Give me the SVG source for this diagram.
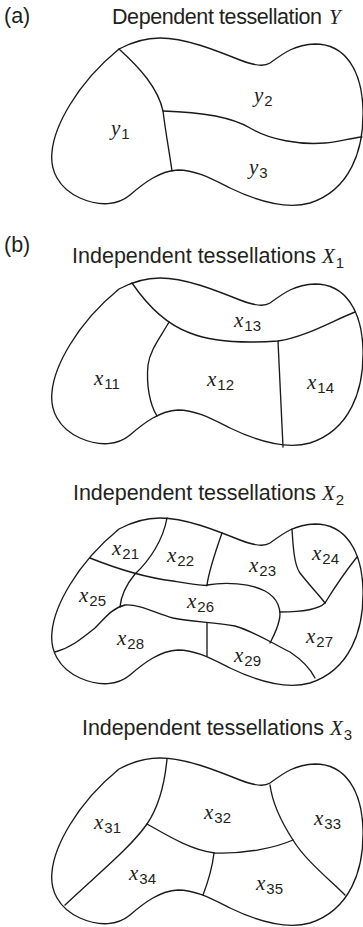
<svg xmlns="http://www.w3.org/2000/svg" xmlns:xlink="http://www.w3.org/1999/xlink" width="363" height="927" viewBox="0 0 363 927">
<style>
.ln{fill:none;stroke:#1a1a1a;stroke-width:1.35;stroke-linejoin:round;stroke-linecap:round}
.t{font-family:"Liberation Sans",Arial,sans-serif;font-size:21.5px;fill:#231f20}
.v{font-family:"Liberation Serif","Times New Roman",serif;font-style:italic;font-size:21px;fill:#231f20}
.s{font-family:"Liberation Sans",Arial,sans-serif;font-style:normal;font-size:15px}
.ts{font-family:"Liberation Sans",Arial,sans-serif;font-style:normal;font-size:15px}
</style>
<defs>
<path id="blob" d="M119,49 C132,42 146,38 160,38 C185,38 215,50 240,60 C255,66 264,67 270,63 C285,52 295,45 315,44 C345,44 362,70 363,110 C364,150 350,190 310,203 C285,210 255,200 230,188 C210,178 195,170 178,170 C160,171 145,182 130,195 C118,205 100,207 80,198 C58,188 50,170 52,152 C54,128 75,85 119,49 Z"/>
</defs>

<g id="panel-a">
<text class="t" x="4" y="23">(a)</text>
<text class="t" x="112" y="24" textLength="210" lengthAdjust="spacing">Dependent tessellation</text>
<text class="v" x="329" y="24">Y</text>
<g id="connectors-a" transform="translate(0,0)">
<use xlink:href="#blob" class="ln"/>
<path class="ln" d="M119,49 C140,68 158,88 163,111 C166,135 169,150 172,171"/>
<path class="ln" d="M163,111 C200,112 230,116 250,128 C270,140 300,145 325,143 C340,142 350,138 362,137"/>
</g>
<g id="y1"><text class="v" x="111" y="135">y<tspan class="s" dx="1" dy="4">1</tspan></text></g>
<g id="y2"><text class="v" x="254" y="102">y<tspan class="s" dx="1" dy="4">2</tspan></text></g>
<g id="y3"><text class="v" x="249" y="174">y<tspan class="s" dx="1" dy="4">3</tspan></text></g>
</g>

<g id="panel-b">
<text class="t" x="4" y="252">(b)</text>
<text class="t" x="72" y="263" textLength="244" lengthAdjust="spacing">Independent tessellations</text>
<text class="v" x="322" y="263">X<tspan class="ts" dx="1" dy="5">1</tspan></text>
<g id="connectors-b" transform="translate(0,240)">
<use xlink:href="#blob" class="ln"/>
<path class="ln" d="M132,43 C145,62 165,84 190,93 C215,103 250,103 278,101 C305,97 330,82 355,72"/>
<path class="ln" d="M169,82 C160,98 150,110 148,125 C146,145 150,165 157,176"/>
<path class="ln" d="M278,101 L283,207"/>
</g>
<g id="x11"><text class="v" x="94" y="385">x<tspan class="s" dx="1" dy="4">11</tspan></text></g>
<g id="x12"><text class="v" x="207" y="386">x<tspan class="s" dx="1" dy="4">12</tspan></text></g>
<g id="x13"><text class="v" x="234" y="327">x<tspan class="s" dx="1" dy="4">13</tspan></text></g>
<g id="x14"><text class="v" x="307" y="389">x<tspan class="s" dx="1" dy="4">14</tspan></text></g>
</g>

<g id="panel-c">
<text class="t" x="73" y="500" textLength="243" lengthAdjust="spacing">Independent tessellations</text>
<text class="v" x="322" y="500">X<tspan class="ts" dx="1" dy="5">2</tspan></text>
<g id="connectors-c" transform="translate(0,480)">
<use xlink:href="#blob" class="ln"/>
<path class="ln" d="M167,38 C163,60 150,80 135,94 C126,105 121,115 120,127"/>
<path class="ln" d="M90,78 C110,86 140,97 173,101 C185,103 196,105 207,105.5"/>
<path class="ln" d="M207,105 C225,102 250,103 265,111 C278,118 282,130 279,141 C277,150 273,157 270,163"/>
<path class="ln" d="M222,53 C216,70 209,90 207,105"/>
<path class="ln" d="M292,49 C293,65 294,85 300,93 C310,106 320,116 325,123"/>
<path class="ln" d="M325,123 C333,110 345,92 357,77"/>
<path class="ln" d="M325,123 C318,130 300,132 280,132"/>
<path class="ln" d="M55,172 C70,168 80,160 95,148 C105,138 112,128 125,125 C140,124 155,133 173,138 C190,142 215,142 235,146 C255,152 270,162 290,172 C302,180 310,188 315,198"/>
<path class="ln" d="M207,143 L207,176"/>
</g>
<g id="x21"><text class="v" x="112" y="555">x<tspan class="s" dx="1" dy="4">21</tspan></text></g>
<g id="x22"><text class="v" x="167" y="562">x<tspan class="s" dx="1" dy="4">22</tspan></text></g>
<g id="x23"><text class="v" x="249" y="572">x<tspan class="s" dx="1" dy="4">23</tspan></text></g>
<g id="x24"><text class="v" x="312" y="560">x<tspan class="s" dx="1" dy="4">24</tspan></text></g>
<g id="x25"><text class="v" x="79" y="602">x<tspan class="s" dx="1" dy="4">25</tspan></text></g>
<g id="x26"><text class="v" x="187" y="608">x<tspan class="s" dx="1" dy="4">26</tspan></text></g>
<g id="x27"><text class="v" x="306" y="643">x<tspan class="s" dx="1" dy="4">27</tspan></text></g>
<g id="x28"><text class="v" x="117" y="645">x<tspan class="s" dx="1" dy="4">28</tspan></text></g>
<g id="x29"><text class="v" x="234" y="662">x<tspan class="s" dx="1" dy="4">29</tspan></text></g>
</g>

<g id="panel-d">
<text class="t" x="82" y="735" textLength="242" lengthAdjust="spacing">Independent tessellations</text>
<text class="v" x="330" y="735">X<tspan class="ts" dx="1" dy="5">3</tspan></text>
<g id="connectors-d" transform="translate(0,720)">
<use xlink:href="#blob" class="ln"/>
<path class="ln" d="M167,39 C165,60 160,85 147,104 C130,128 100,152 65,185"/>
<path class="ln" d="M147,104 C165,114 190,130 215,133 C245,134 275,128 293,120"/>
<path class="ln" d="M270,65 C272,80 280,100 293,120 C305,140 330,160 345,175"/>
<path class="ln" d="M214,133 C212,150 208,162 203,175"/>
</g>
<g id="x31"><text class="v" x="94" y="829">x<tspan class="s" dx="1" dy="4">31</tspan></text></g>
<g id="x32"><text class="v" x="204" y="819">x<tspan class="s" dx="1" dy="4">32</tspan></text></g>
<g id="x33"><text class="v" x="314" y="825">x<tspan class="s" dx="1" dy="4">33</tspan></text></g>
<g id="x34"><text class="v" x="129" y="880">x<tspan class="s" dx="1" dy="4">34</tspan></text></g>
<g id="x35"><text class="v" x="256" y="890">x<tspan class="s" dx="1" dy="4">35</tspan></text></g>
</g>
</svg>
